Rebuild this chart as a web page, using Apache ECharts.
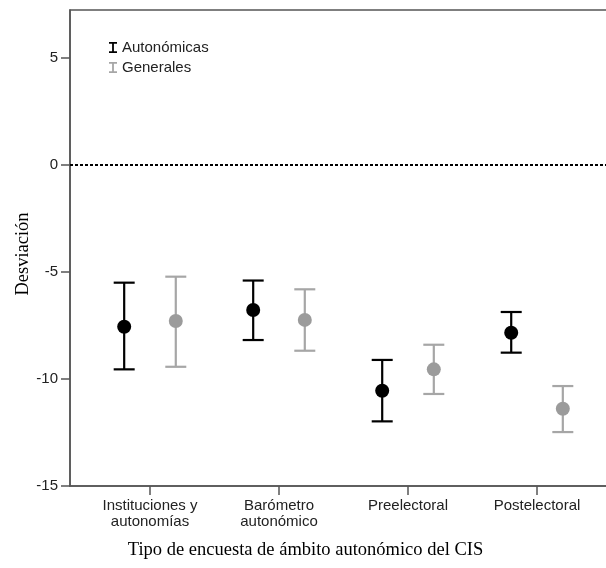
<!DOCTYPE html>
<html>
<head>
<meta charset="utf-8">
<script src="https://cdn.jsdelivr.net/npm/echarts@6/dist/echarts.min.js"></script>
<style>
  html, body { margin: 0; padding: 0; background: #fff; }
  #chart { width: 606px; height: 568px; }
</style>
</head>
<body>
<div id="chart"></div>
<script>
// Survey types along the horizontal axis
const categories = ['Instituciones y\nautonomías', 'Barómetro\nautonómico', 'Preelectoral', 'Postelectoral'];
const seriesNames = ['Autonómicas', 'Generales'];

// Mean deviation and interval limits per survey type
const autonomicasMean  = [-7.56, -6.78, -10.55, -7.84];
const autonomicasLower = [-9.55, -8.18, -11.98, -8.77];
const autonomicasUpper = [-5.50, -5.40,  -9.11, -6.87];

const generalesMean  = [-7.29, -7.24,  -9.55, -11.39];
const generalesLower = [-9.43, -8.68, -10.70, -12.48];
const generalesUpper = [-5.22, -5.81,  -8.40, -10.33];

const yTicks = [-15, -10, -5, 0, 5];

const chart = echarts.init(document.getElementById('chart'), null, { renderer: 'canvas' });

const clusterOffset = 0.2;
const colors = { 'Autonómicas': { line: '#000000', dot: '#000000' },
                 'Generales':   { line: '#a6a6a6', dot: '#9b9b9b' } };

function errorSeries(name, lower, upper, offset) {
  const c = colors[name].line;
  return {
    name: name,
    type: 'custom',
    itemStyle: { color: c },
    data: lower.map((lo, i) => [i + 1 + offset, lo, upper[i]]),
    renderItem: function (params, api) {
      const x = api.value(0);
      const pLo = api.coord([x, api.value(1)]);
      const pHi = api.coord([x, api.value(2)]);
      const half = 10.5;
      const style = { stroke: c, lineWidth: 2.2, fill: null };
      return {
        type: 'group',
        children: [
          { type: 'line', shape: { x1: pLo[0], y1: pLo[1], x2: pHi[0], y2: pHi[1] }, style: style },
          { type: 'line', shape: { x1: pLo[0] - half, y1: pLo[1], x2: pLo[0] + half, y2: pLo[1] }, style: style },
          { type: 'line', shape: { x1: pHi[0] - half, y1: pHi[1], x2: pHi[0] + half, y2: pHi[1] }, style: style }
        ]
      };
    },
    z: 3
  };
}

function meanSeries(name, mean, offset, withZeroLine) {
  const s = {
    name: name,
    type: 'scatter',
    symbol: 'circle',
    symbolSize: 14,
    itemStyle: { color: colors[name].dot, opacity: 1 },
    data: mean.map((m, i) => [i + 1 + offset, m]),
    z: 4
  };
  if (withZeroLine) {
    s.markLine = {
      silent: true,
      symbol: ['none', 'none'],
      label: { show: false },
      lineStyle: { color: '#000', type: [3, 2], width: 2 },
      data: [{ yAxis: 0 }],
      animation: false
    };
  }
  return s;
}

const iBeam = 'path://M0,0H8V1.7H4.9V9.3H8V11H0V9.3H3.1V1.7H0Z';

chart.setOption({
  animation: false,
  backgroundColor: '#ffffff',
  grid: {
    left: 70, right: -11, top: 10, bottom: 82,
    outerBoundsMode: 'none',
    containLabel: false,
    show: true, borderColor: '#555', borderWidth: 1.5, backgroundColor: 'transparent'
  },
  legend: {
    orient: 'vertical',
    left: 104, top: 35,
    itemWidth: 8, itemHeight: 11, itemGap: 5, itemStyle: { borderWidth: 0 },
    textStyle: { fontFamily: 'Liberation Sans', fontSize: 15, color: '#222' },
    data: seriesNames.map(n => ({ name: n, icon: iBeam }))
  },
  xAxis: {
    type: 'value',
    min: 0.38, max: 4.62,
    splitLine: { show: false },
    axisLine: { onZero: false, lineStyle: { color: '#555', width: 1.5 } },
    axisTick: { show: true, length: 9, customValues: [1, 2, 3, 4], lineStyle: { color: '#555', width: 1.5 } },
    axisLabel: {
      customValues: [1, 2, 3, 4],
      formatter: v => categories[Math.round(v) - 1] || '',
      fontFamily: 'Liberation Sans', fontSize: 15, color: '#222', lineHeight: 16, margin: 12
    },
    name: 'Tipo de encuesta de ámbito autonómico del CIS',
    nameLocation: 'middle',
    nameGap: 55,
    nameMoveOverlap: false,
    nameTextStyle: { fontFamily: 'Liberation Serif', fontSize: 18.5, color: '#000', padding: [0, 76, 0, 0] }
  },
  yAxis: {
    type: 'value',
    min: -15, max: 7.24,
    splitLine: { show: false },
    axisLine: { show: true, onZero: false, lineStyle: { color: '#555', width: 1.5 } },
    axisTick: { show: true, length: 9, customValues: yTicks, lineStyle: { color: '#555', width: 1.5 } },
    axisLabel: {
      customValues: yTicks,
      fontFamily: 'Liberation Sans', fontSize: 15, color: '#222', margin: 12
    },
    name: 'Desviación',
    nameLocation: 'middle',
    nameGap: 37,
    nameRotate: 90,
    nameMoveOverlap: false,
    nameTextStyle: { fontFamily: 'Liberation Serif', fontSize: 18.5, color: '#000', padding: [0, 12, 0, 0] }
  },
  series: [
    errorSeries('Autonómicas', autonomicasLower, autonomicasUpper, -clusterOffset),
    errorSeries('Generales', generalesLower, generalesUpper, clusterOffset),
    meanSeries('Autonómicas', autonomicasMean, -clusterOffset, true),
    meanSeries('Generales', generalesMean, clusterOffset, false)
  ]
});
</script>
</body>
</html>
